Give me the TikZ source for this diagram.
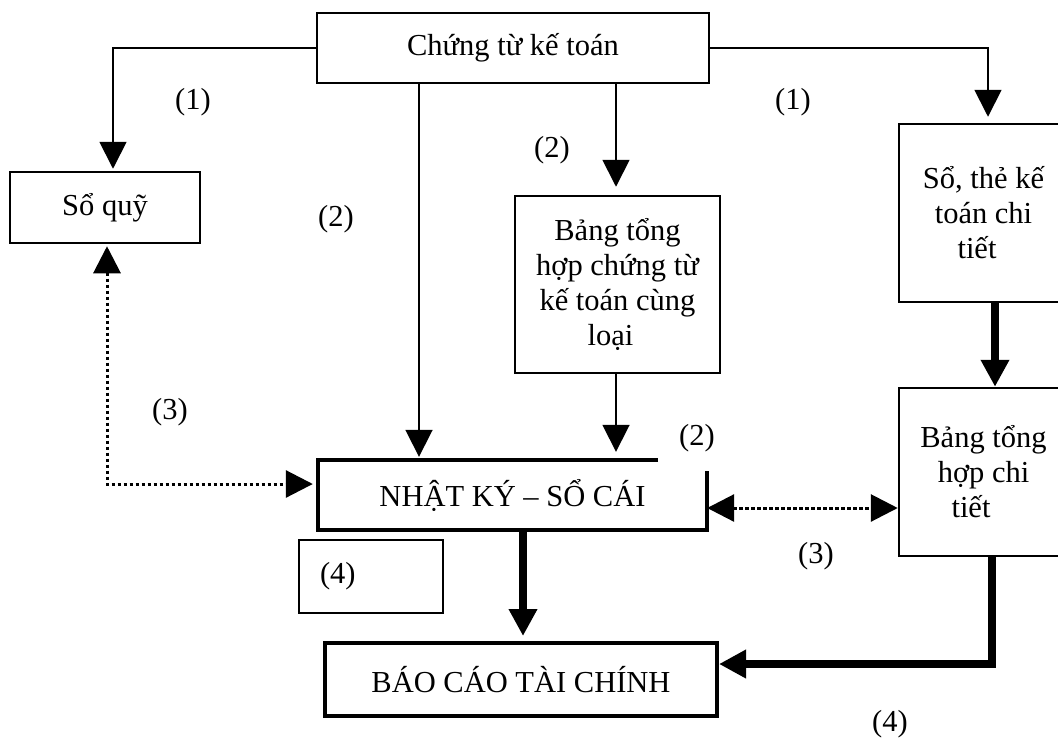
\documentclass[tikz,border=0pt]{standalone}
\usepackage{fontspec}
\setmainfont{Liberation Serif}
\usetikzlibrary{arrows.meta}
\begin{document}
\begin{tikzpicture}[x=1pt,y=-1pt,
  every node/.style={font=\fontsize{30.5}{35}\selectfont},
  boxn/.style={draw, line width=2.5pt, inner sep=0pt, align=center},
  thinarr/.style={line width=1.8pt, -{Triangle[length=27pt,width=27pt]}},
  thickarr/.style={line width=8pt, -{Triangle[length=27pt,width=27pt]}},
  dotarr/.style={line width=3pt, dash pattern=on 3.5pt off 2.5pt, {Triangle[length=27pt,width=27pt]}-{Triangle[length=27pt,width=27pt]}},
  lbl/.style={inner sep=0pt}
]
\useasboundingbox (0,0) rectangle (1058,740);

% boxes
\node[boxn, minimum width=392pt, minimum height=70pt] (chungtu) at (513,48) {Chứng từ kế toán};
\node[boxn, minimum width=190pt, minimum height=71pt] (soquy) at (105,207.5) {Sổ quỹ};
\node[boxn, minimum width=169pt, minimum height=178pt] (sothe) at (983.5,213) {Sổ, thẻ kế\\toán chi\\tiết\hspace*{13pt}};
\node[boxn, minimum width=205pt, minimum height=177pt] (bangth) at (617.5,284.5) {Bảng tổng\\hợp chứng từ\\kế toán cùng\\loại\hspace*{14pt}};
\node[boxn, minimum width=169pt, minimum height=168pt] (bthct) at (983.5,472) {Bảng tổng\\hợp chi\\tiết\hspace*{25pt}};
\node[inner sep=0pt, minimum width=389pt, minimum height=70pt] (nhatky) at (512.5,495) {NHẬT KÝ – SỔ CÁI};
\draw[line width=4pt] ([xshift=-49pt]nhatky.north east) -- (nhatky.north west) -- (nhatky.south west) -- (nhatky.south east) -- ([yshift=-11pt]nhatky.north east);
\node[draw, line width=1.5pt, minimum width=144pt, minimum height=73pt, inner xsep=21pt, inner ysep=0pt, text width=102pt, align=left] (box4) at (371,576.5) {(4)};
\node[boxn, line width=4pt, minimum width=392pt, minimum height=73pt] (baocao) at (521,679.5) {BÁO CÁO TÀI CHÍNH};

% labels
\node[lbl] (l1a) at (193,102) {(1)};
\node[lbl] (l1b) at (793,102) {(1)};
\node[lbl] (l2a) at (336,219) {(2)};
\node[lbl] (l2b) at (552,150) {(2)};
\node[lbl] (l2c) at (697,438) {(2)};
\node[lbl] (l3a) at (170,412) {(3)};
\node[lbl] (l3b) at (816,556) {(3)};
\node[lbl] (l4) at (890,724) {(4)};

% helper coordinates
\coordinate (xa) at (113,0);
\coordinate (xb) at (419,0);
\coordinate (xc) at (616,0);
\coordinate (xd) at (523,0);
\coordinate (xe) at (995,0);
\coordinate (xf) at (992,0);
\coordinate (yf) at (0,664);
\coordinate (yg) at (0,508);
\coordinate (xh) at (107,0);
\coordinate (yh) at (0,484);

% connectors
\draw[thinarr, shorten >=2pt] (chungtu.west) -| (soquy.north -| xa);
\draw[thinarr, shorten >=6pt] (chungtu.east) -| ([xshift=4.5pt]sothe.north);
\draw[thinarr, shorten >=3pt] (chungtu.south -| xb) -- (nhatky.north -| xb);
\draw[thinarr, shorten >=8pt] (chungtu.south -| xc) -- (bangth.north -| xc);
\draw[thinarr, shorten >=8pt] (bangth.south -| xc) -- (nhatky.north -| xc);
\draw[thickarr, shorten >=5pt] (nhatky.south -| xd) -- (baocao.north -| xd);
\draw[thickarr] (sothe.south -| xe) -- (bthct.north -| xe);
\draw[thickarr] (bthct.south -| xf) |- (baocao.east |- yf);
\draw[dotarr] (nhatky.east |- yg) -- (bthct.west |- yg);
\draw[dotarr, shorten <=2pt, shorten >=5pt] (soquy.south -| xh) |- (nhatky.west |- yh);
\end{tikzpicture}
\end{document}
